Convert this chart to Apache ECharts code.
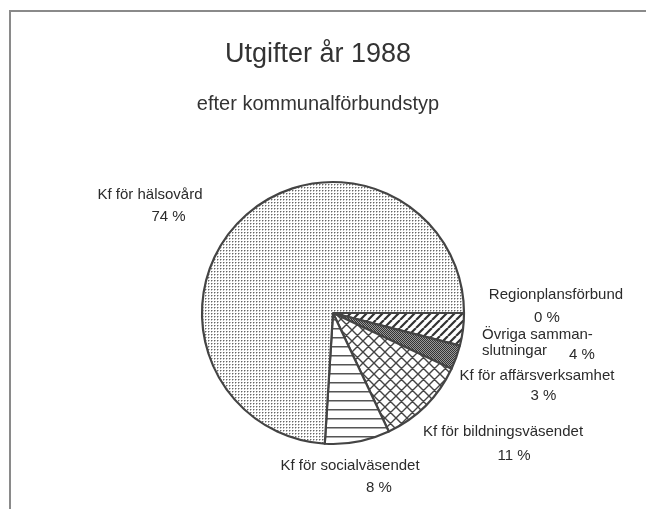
<!DOCTYPE html>
<html>
<head>
<meta charset="utf-8">
<script src="https://cdn.jsdelivr.net/npm/echarts@6/dist/echarts.min.js"></script>
<style>
  html, body { margin: 0; padding: 0; background: #fff; }
  #chart { width: 646px; height: 509px; }
</style>
</head>
<body>
<div id="chart"></div>
<script>
// data
var categories = ['Regionplansförbund', 'Övriga samman-\nslutningar', 'Kf för affärsverksamhet',
                  'Kf för bildningsväsendet', 'Kf för socialväsendet', 'Kf för hälsovård'];
var shares = [0, 4, 3, 11, 8, 74];

// where each label sits (x, y top, align, line height, shift of the % line)
var labelSpots = [
  { x: 556, y: 283, align: 'center', lh: 23, pad: [0, 18, 0, 0] },
  { x: 482, y: 327, align: 'left', lh: 16, pad: [8, 0, 0, 22] },
  { x: 537, y: 366, align: 'center', lh: 20, pad: [0, 0, 0, 13] },
  { x: 503, y: 420, align: 'center', lh: 24, pad: [0, 0, 0, 22] },
  { x: 350, y: 455, align: 'center', lh: 22, pad: [0, 0, 0, 58] },
  { x: 150, y: 184, align: 'center', lh: 22, pad: [0, 0, 0, 37] }
];

function makePattern(size, draw) {
  var c = document.createElement('canvas');
  c.width = size; c.height = size;
  var ctx = c.getContext('2d');
  ctx.fillStyle = '#fff';
  ctx.fillRect(0, 0, size, size);
  draw(ctx, size);
  return { image: c, repeat: 'repeat' };
}

// fine light stipple
var dotsLight = makePattern(3, function (ctx) {
  ctx.fillStyle = '#bbb';
  ctx.fillRect(2, 1, 1, 1);
  ctx.fillRect(1, 2, 1, 1);
  ctx.fillStyle = '#666';
  ctx.fillRect(1, 1, 1, 1);
});
// dark stipple
var dotsDark = makePattern(2, function (ctx) {
  ctx.fillStyle = '#9a9a9a';
  ctx.fillRect(0, 0, 2, 2);
  ctx.fillStyle = '#333';
  ctx.fillRect(0, 0, 1, 1);
  ctx.fillRect(1, 1, 1, 1);
});
// "/" stripes
var stripes = makePattern(8, function (ctx, s) {
  ctx.strokeStyle = '#333';
  ctx.lineWidth = 2.2;
  ctx.beginPath();
  for (var k = -1; k <= 1; k++) {
    ctx.moveTo(k * s, s); ctx.lineTo(k * s + s, 0);
  }
  ctx.stroke();
});
// crosshatch
var cross = makePattern(11, function (ctx, s) {
  ctx.strokeStyle = '#444';
  ctx.lineWidth = 1.4;
  ctx.beginPath();
  for (var k = -1; k <= 1; k++) {
    ctx.moveTo(k * s, s); ctx.lineTo(k * s + s, 0);
    ctx.moveTo(k * s, 0); ctx.lineTo(k * s + s, s);
  }
  ctx.stroke();
});
// horizontal lines
var hlines = makePattern(9, function (ctx, s) {
  ctx.fillStyle = '#555';
  ctx.fillRect(0, 4, s, 1.5);
});

var fills = ['#fff', stripes, dotsDark, cross, hlines, dotsLight];

var chart = echarts.init(document.getElementById('chart'));

var pieData = categories.map(function (name, i) {
  var spot = labelSpots[i];
  var first = name.split('\n');
  var text;
  if (i === 1) {
    text = '{t|' + first[0] + '}\n{t|' + first[1] + '}{p|' + shares[i] + ' %}';
  } else {
    text = '{t|' + name + '}\n{p|' + shares[i] + ' %}';
  }
  return {
    name: name,
    value: shares[i],
    itemStyle: { color: fills[i] },
    label: {
      formatter: text,
      rich: {
        t: { fontSize: 15, color: '#2b2b2b', lineHeight: spot.lh, fontFamily: 'Liberation Sans' },
        p: { fontSize: 15, color: '#2b2b2b', lineHeight: spot.lh, fontFamily: 'Liberation Sans',
             padding: spot.pad }
      }
    }
  };
});

chart.setOption({
  animation: false,
  backgroundColor: '#fff',
  title: [
    {
      text: 'Utgifter år 1988',
      left: 313, top: 36, textAlign: 'center',
      textStyle: { fontSize: 27, fontWeight: 'normal', color: '#333', fontFamily: 'Liberation Sans' }
    },
    {
      text: 'efter kommunalförbundstyp',
      left: 313, top: 89, textAlign: 'center',
      textStyle: { fontSize: 20, fontWeight: 'normal', color: '#333', fontFamily: 'Liberation Sans' }
    }
  ],
  graphic: [
    {
      type: 'polyline',
      shape: { points: [[10, 520], [10, 11], [660, 11]] },
      style: { stroke: '#8a8a8a', lineWidth: 2, fill: null }
    }
  ],
  series: [
    {
      type: 'pie',
      center: [333, 313],
      radius: [0, 131],
      startAngle: 0,
      clockwise: true,
      avoidLabelOverlap: false,
      stillShowZeroSum: true,
      itemStyle: { borderColor: '#444', borderWidth: 2.2 },
      label: { show: true, position: 'outside', fontFamily: 'Liberation Sans' },
      labelLine: { show: false },
      emphasis: { disabled: true },
      labelLayout: function (params) {
        var spot = labelSpots[params.dataIndex];
        return { x: spot.x, y: spot.y, align: spot.align, verticalAlign: 'top', hideOverlap: false };
      },
      data: pieData
    }
  ]
});
</script>
</body>
</html>
